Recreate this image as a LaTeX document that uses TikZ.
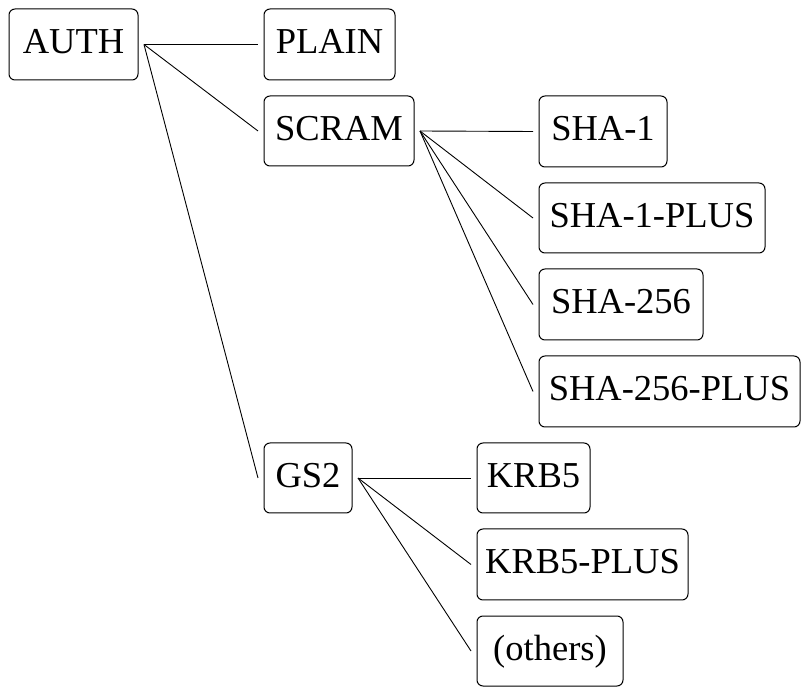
\documentclass[tikz,border=0pt]{standalone}
\usepackage{fontspec}
\setmainfont{Liberation Serif}
\begin{document}
\begin{tikzpicture}[x=1pt,y=-1pt,
  box/.style={draw, line width=1pt, rounded corners=6pt, minimum height=71pt,
    inner sep=0pt, outer sep=6pt, text height=27pt, text depth=8pt,
    font=\fontsize{36.5}{44}\selectfont},
  link/.style={line width=0.9pt}]
\useasboundingbox (0,0) rectangle (804,692);
\node[box, minimum width=129pt] (auth) at (73.5,44.5) {AUTH};
\node[box, minimum width=131pt] (plain) at (329.5,44.5) {PLAIN};
\node[box, minimum width=150pt, minimum height=70pt] (scram) at (339,131) {SCRAM};
\node[box, minimum width=128pt] (sha1) at (603,131.5) {SHA-1};
\node[box, minimum width=226pt, minimum height=70pt] (sha1p) at (652,218) {SHA-1-PLUS};
\node[box, minimum width=164pt] (sha256) at (621,304.5) {SHA-256};
\node[box, minimum width=261pt] (sha256p) at (669.5,391.5) {SHA-256-PLUS};
\node[box, minimum width=88pt, minimum height=70pt] (gs2) at (308,478) {GS2};
\node[box, minimum width=113pt, minimum height=70pt] (krb5) at (533.5,478) {KRB5};
\node[box, minimum width=211pt] (krb5p) at (582.5,564.5) {KRB5-PLUS};
\node[box, minimum width=146pt, minimum height=70pt] (others) at (550,651) {(others)};
\draw[link] (auth.east) -- (plain.west);
\draw[link] (auth.east) -- (scram.west);
\draw[link] (auth.east) -- (gs2.west);
\draw[link] (scram.east) -- (sha1.west);
\draw[link] (scram.east) -- (sha1p.west);
\draw[link] (scram.east) -- (sha256.west);
\draw[link] (scram.east) -- (sha256p.west);
\draw[link] (gs2.east) -- (krb5.west);
\draw[link] (gs2.east) -- (krb5p.west);
\draw[link] (gs2.east) -- (others.west);
\end{tikzpicture}
\end{document}
